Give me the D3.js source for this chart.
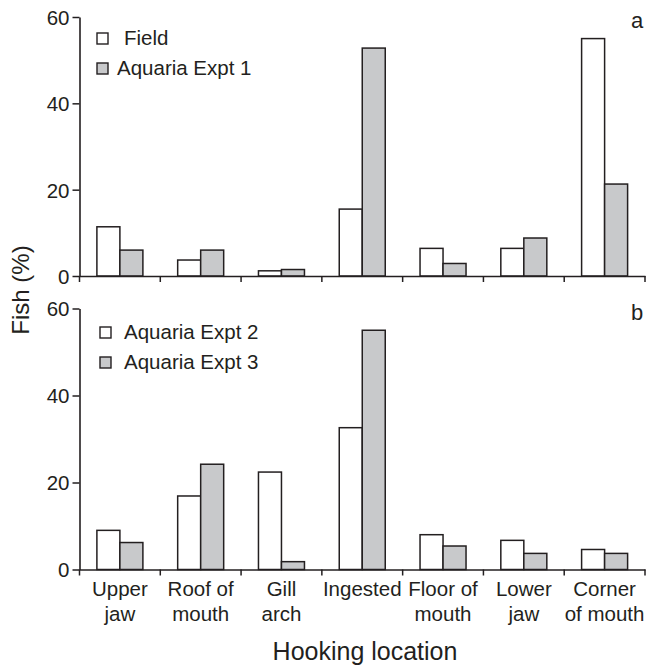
<!DOCTYPE html>
<html><head><meta charset="utf-8">
<script src="https://cdn.jsdelivr.net/npm/d3@7"></script>
<style>body{margin:0;background:#fff}svg{display:block}text{font-family:"Liberation Sans",Arial,sans-serif;fill:#231f20}</style>
</head><body>
<script>
const categories = ["Upper jaw","Roof of mouth","Gill arch","Ingested","Floor of mouth","Lower jaw","Corner of mouth"];
const categoryLines = [["Upper","jaw"],["Roof of","mouth"],["Gill","arch"],["Ingested"],["Floor of","mouth"],["Lower","jaw"],["Corner","of mouth"]];
const seriesA = ["Field","Aquaria Expt 1"];
const fieldVals = [11.4,3.7,1.2,15.5,6.4,6.4,55.0];
const expt1Vals = [6.0,6.0,1.5,52.8,2.9,8.8,21.3];
const seriesB = ["Aquaria Expt 2","Aquaria Expt 3"];
const expt2Vals = [9.0,16.9,22.4,32.6,8.0,6.7,4.6];
const expt3Vals = [6.2,24.2,1.8,55.0,5.4,3.7,3.7];
const yTicks = [0,20,40,60];

const W=652,H=665;
const svg=d3.select("body").append("svg").attr("width",W).attr("height",H);
const x=d3.scaleBand().domain(categories).range([79.5,645]);
const fills=["#ffffff","#c8c9cb"];
const stroke="#231f20";

function panel(top,bottom,series,vals,letter,legendY){
  const y=d3.scaleLinear().domain([0,60]).range([bottom,top]);
  const g=svg.append("g");
  const pairW=46;
  const x1=d3.scaleBand().domain(series).range([0,pairW]);
  categories.forEach((c,i)=>{
    series.forEach((s,j)=>{
      const v=vals[j][i];
      g.append("rect")
        .attr("x",x(c)+(x.bandwidth()-pairW)/2+x1(s))
        .attr("y",y(v))
        .attr("width",x1.bandwidth())
        .attr("height",y(0)-y(v))
        .attr("fill",fills[j]).attr("stroke",stroke).attr("stroke-width",1.5);
    });
  });
  const ya=g.append("g").attr("transform",`translate(${x.range()[0]},0)`)
    .call(d3.axisLeft(y).tickValues(yTicks).tickSize(7).tickSizeOuter(0));
  ya.select(".domain").attr("stroke",stroke).attr("stroke-width",1.6);
  ya.selectAll(".tick line").attr("stroke",stroke).attr("stroke-width",1.5);
  ya.selectAll(".tick text").attr("font-size",20.5).attr("x",-10).attr("dy","0.36em").attr("fill",stroke);
  const xa=g.append("g").attr("transform",`translate(0,${y(0)})`)
    .call(d3.axisBottom(x).tickSize(0).tickFormat(""));
  xa.select(".domain").attr("stroke",stroke).attr("stroke-width",1.6);
  xa.selectAll(".tick").remove();
  const bounds=x.domain().map(d=>x(d)).concat([x.range()[1]]);
  g.selectAll(".xt").data(bounds).enter().append("line")
    .attr("x1",d=>d).attr("x2",d=>d).attr("y1",y(0)).attr("y2",y(0)+6)
    .attr("stroke",stroke).attr("stroke-width",1.5);
  series.forEach((s,j)=>{
    const ly=legendY+j*30;
    g.append("rect").attr("x",letter==="a"?97:100).attr("y",ly-12).attr("width",11).attr("height",11)
      .attr("fill",fills[j]).attr("stroke",stroke).attr("stroke-width",1.4);
    g.append("text").attr("x",(letter==="a"&&j===1)?117:124).attr("y",ly).attr("font-size",20.5).text(s);
  });
  g.append("text").attr("x",637).attr("y",top+11).attr("text-anchor","middle").attr("font-size",22).text(letter);
  return y;
}
panel(17,276,seriesA,[fieldVals,expt1Vals],"a",45);
panel(308.5,569.5,seriesB,[expt2Vals,expt3Vals],"b",339);

categories.forEach((c,i)=>{
  const cx=x(c)+x.bandwidth()/2;
  const t=svg.append("text").attr("x",cx).attr("y",596).attr("text-anchor","middle").attr("font-size",20.5);
  categoryLines[i].forEach((l,k)=>t.append("tspan").attr("x",cx).attr("dy",k===0?0:25).text(l));
});
svg.append("text").attr("x",365).attr("y",660).attr("text-anchor","middle").attr("font-size",25).text("Hooking location");
svg.append("text").attr("transform","translate(29,290) rotate(-90)").attr("text-anchor","middle").attr("font-size",24).text("Fish (%)");
</script>
</body></html>
